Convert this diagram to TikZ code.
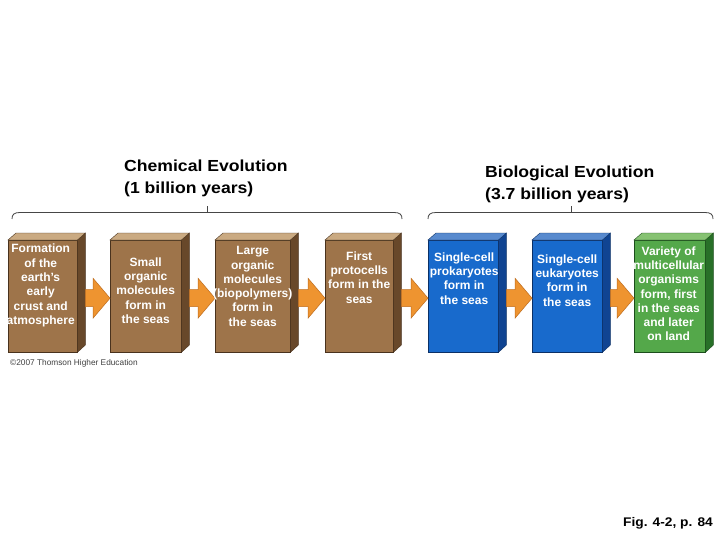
\documentclass[tikz,border=0pt]{standalone}
\usepackage{fontspec}
\setmainfont{Liberation Sans}
\newfontfamily\widefont[FakeStretch=1.1]{Liberation Sans}
\usetikzlibrary{calc}
\definecolor{brF}{RGB}{158,116,74}
\definecolor{brS}{RGB}{104,72,42}
\definecolor{brT}{RGB}{202,170,130}
\definecolor{blF}{RGB}{24,106,204}
\definecolor{blS}{RGB}{16,68,146}
\definecolor{blT}{RGB}{88,138,206}
\definecolor{grF}{RGB}{84,168,74}
\definecolor{grS}{RGB}{40,112,40}
\definecolor{grT}{RGB}{134,194,114}
\definecolor{arF}{RGB}{238,148,48}
\definecolor{arE}{RGB}{190,108,30}
\definecolor{brc}{RGB}{70,70,70}
\tikzset{
  front/.style={anchor=north west, inner sep=0pt, minimum height=112pt, draw=#1S!70!black, fill=#1F, line width=0.4pt},
  lbl/.style={anchor=north, align=center, inner sep=0pt, text=white, font=\bfseries\fontsize{12}{14.3}\selectfont},
  hdr/.style={anchor=north west, align=left, inner sep=0pt, font=\widefont\bfseries\fontsize{16}{22.6}\selectfont},
  bracec/.style={draw=brc, line width=0.8pt},
  blockarr/.style={fill=arF, draw=arE, line width=0.5pt}
}
\newcommand\drawbox[4]{%
  \node[front=#4, minimum width=#3pt] (#1) at (#2,240) {};
  \filldraw[fill=#4S, draw=#4S!70!black, line width=0.4pt] (#1.north east) -- ++(8,-7) -- ++(0,112) -- (#1.south east) -- cycle;
  \filldraw[fill=#4T, draw=#4S!70!black, line width=0.4pt] (#1.north west) -- ++(8,-7) -- ($(#1.north east)+(8,-7)$) -- (#1.north east) -- cycle;
}
\newcommand\blockarrow[2]{%
  \filldraw[blockarr] ($(#1.east)+(8,-6.5)$) -- ($(#2.west)+(-17,-6.5)$) -- ($(#2.west)+(-17,-18)$) -- ($(#2.west)+(0,2)$) -- ($(#2.west)+(-17,22)$) -- ($(#2.west)+(-17,10.5)$) -- ($(#1.east)+(8,10.5)$) -- cycle;
}
\begin{document}
\begin{tikzpicture}[x=1pt,y=-1pt]
\useasboundingbox (0,0) rectangle (720,540);
\fill[white] (0,0) rectangle (720,540);
% headers
\node[hdr] (h1) at (124,159.3) {Chemical Evolution\\(1 billion years)};
\node[hdr] (h2) at (485,165.3) {Biological Evolution\\(3.7 billion years)};
% braces
\draw[bracec] (12,219) .. controls (12,214.5) and (14,212.5) .. (20,212.5) -- (394,212.5) .. controls (400,212.5) and (402,214.5) .. (402,219);
\draw[bracec] (207,212.5) -- (207,206);
\draw[bracec] (428,219) .. controls (428,214.5) and (430,212.5) .. (436,212.5) -- (705,212.5) .. controls (711,212.5) and (713,214.5) .. (713,219);
\draw[bracec] (571,212.5) -- (571,206);
% boxes
\drawbox{b1}{8}{69}{br}
\drawbox{b2}{110}{71}{br}
\drawbox{b3}{215}{75}{br}
\drawbox{b4}{325}{68}{br}
\drawbox{b5}{428}{70}{bl}
\drawbox{b6}{532}{70}{bl}
\drawbox{b7}{634}{71}{gr}
% arrows
\blockarrow{b1}{b2}
\blockarrow{b2}{b3}
\blockarrow{b3}{b4}
\blockarrow{b4}{b5}
\blockarrow{b5}{b6}
\blockarrow{b6}{b7}
% texts
\node[lbl] (t1) at ($(b1.north)+(-2,4)$) {Formation\\of the\\earth’s\\early\\crust and\\atmosphere};
\node[lbl] (t2) at ($(b2.north)+(0,17.3)$) {Small\\organic\\molecules\\form in\\the seas};
\node[lbl] (t3) at ($(b3.north)+(0,6.3)$) {Large\\organic\\molecules\\(biopolymers)\\form in\\the seas};
\node[lbl] (t4) at ($(b4.north)+(0,11.3)$) {First\\protocells\\form in the\\seas};
\node[lbl] (t5) at ($(b5.north)+(1,12.3)$) {Single-cell\\prokaryotes\\form in\\the seas};
\node[lbl] (t6) at ($(b6.north)+(0,14.3)$) {Single-cell\\eukaryotes\\form in\\the seas};
\node[lbl] (t7) at ($(b7.north)+(-1,6.3)$) {Variety of\\multicellular\\organisms\\form, first\\in the seas\\and later\\on land};
% credits
\node[anchor=base west, inner sep=0pt, text=black!75, font=\fontsize{8.3}{9}\selectfont] (cr) at (10,365) {©2007 Thomson Higher Education};
\node[anchor=base east, inner sep=0pt, font=\widefont\bfseries\fontsize{12.5}{14}\selectfont] (fig) at (713,526) {Fig. 4-2, p. 84};
\end{tikzpicture}
\end{document}
